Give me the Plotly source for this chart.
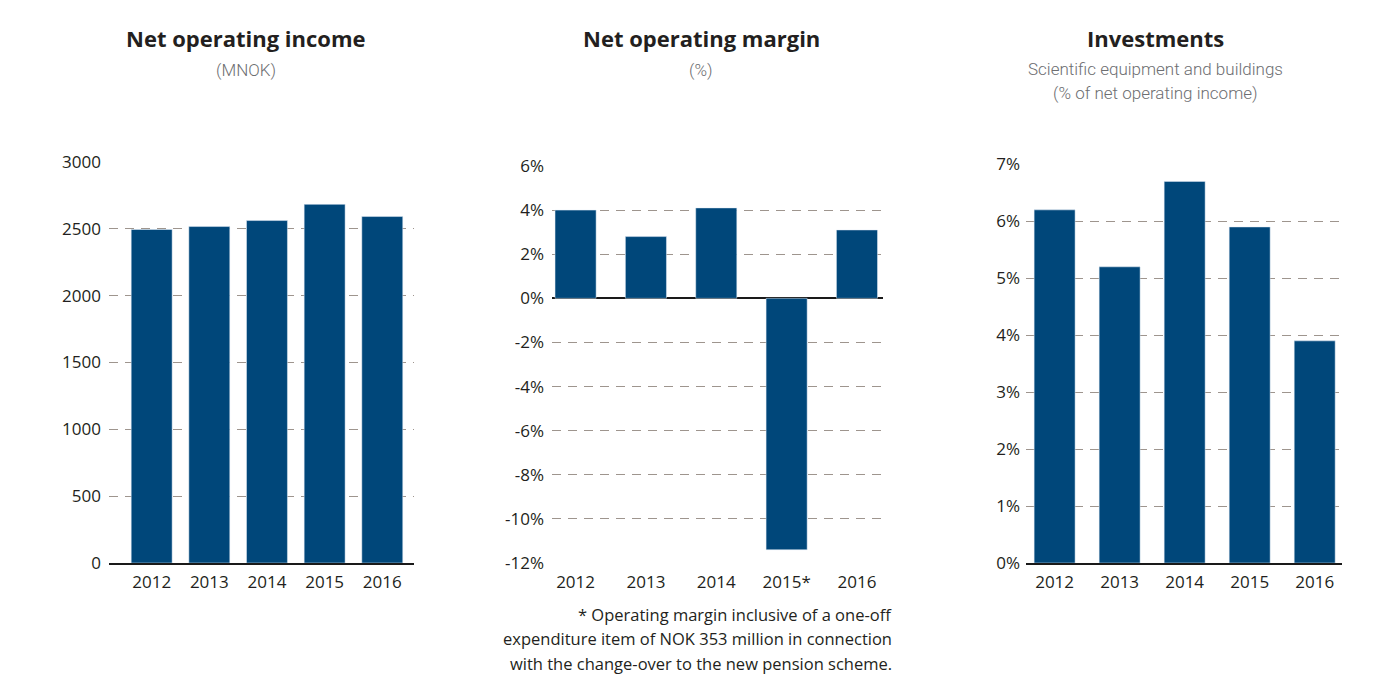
import plotly.graph_objects as go

years = ["2012", "2013", "2014", "2015", "2016"]
years_margin = ["2012", "2013", "2014", "2015*", "2016"]
income = [2495, 2517, 2562, 2683, 2592]          # MNOK
margin = [4.0, 2.8, 4.1, -11.4, 3.1]             # %
invest = [6.2, 5.2, 6.7, 5.9, 3.9]               # % of net operating income

income_ticks = [0, 500, 1000, 1500, 2000, 2500, 3000]
margin_ticks = [-12, -10, -8, -6, -4, -2, 0, 2, 4, 6]
margin_ticktext = [f"{v}%" for v in margin_ticks]
invest_ticks = [0, 1, 2, 3, 4, 5, 6, 7]
invest_ticktext = [f"{v}%" for v in invest_ticks]

BAR = "#00477a"
GRID = "#9e958e"
TXT = "#231f20"
SUB = "#6d6e71"
W, H = 1400, 696
OX, OY = 8, 8


def px(x):
    return (x - OX) / W


def py(y):
    return 1 - (y - OY) / H


fig = go.Figure()
fig.add_trace(go.Bar(x=years, y=income, marker_color=BAR, width=0.71,
                     xaxis="x", yaxis="y", hoverinfo="x+y"))
fig.add_trace(go.Bar(x=years_margin, y=margin, marker_color=BAR, width=0.584,
                     xaxis="x2", yaxis="y2", hoverinfo="x+y"))
fig.add_trace(go.Bar(x=years, y=invest, marker_color=BAR, width=0.63,
                     xaxis="x3", yaxis="y3", hoverinfo="x+y"))

tickfont = dict(family="Open Sans, Carlito, sans-serif", size=17, color=TXT)


def xax(domain, rng, showline, anchor, standoff=3):
    return dict(domain=domain, range=rng, type="category", showgrid=False, anchor=anchor,
                showline=showline, linecolor="#1a1a1a", linewidth=1.5,
                ticks="", tickfont=tickfont, ticklabelstandoff=standoff, automargin=False,
                layer="above traces", fixedrange=True)


def yax(domain, rng, anchor, tickvals, ticktext=None, zeroline=False, standoff=7):
    d = dict(domain=domain, range=rng, anchor=anchor, showgrid=True,
             gridcolor=GRID, gridwidth=1.3, griddash="9px,7px", automargin=False,
             tickvals=tickvals, tickfont=tickfont, ticklabelstandoff=standoff,
             showline=False, zeroline=zeroline, zerolinecolor="#1a1a1a",
             zerolinewidth=1.5, layer="above traces", fixedrange=True)
    if ticktext is not None:
        d["ticktext"] = ticktext
    return d


fig.update_layout(
    width=W, height=H, margin=dict(l=0, r=0, t=0, b=0, autoexpand=False),
    paper_bgcolor="white", plot_bgcolor="white", showlegend=False,
    xaxis=xax([px(109), px(414)], [-0.74, 4.55], True, "y"),
    yaxis=yax([py(563), py(162)], [0, 3000], "x", income_ticks),
    xaxis2=xax([px(552), px(883)], [-0.335, 4.37], False, "y2", standoff=7),
    yaxis2=yax([py(563), py(166)], [-12, 6], "x2", margin_ticks, margin_ticktext,
               zeroline=True),
    xaxis3=xax([px(1026), px(1342)], [-0.44, 4.42], True, "y3"),
    yaxis3=yax([py(563), py(164.3)], [0, 7], "x3", invest_ticks, invest_ticktext,
               standoff=5),
)

title_font = dict(family="Open Sans, sans-serif", size=22, color=TXT, weight="bold")
sub_font = dict(family="Roboto, sans-serif", size=17, color=SUB, weight=300)
foot_font = dict(family="Open Sans, Carlito, sans-serif", size=16.5, color=TXT)


def ann(text, xpx, ypx, font, xanchor="center"):
    fig.add_annotation(text=text, x=px(xpx), y=py(ypx), xref="paper", yref="paper",
                       xanchor=xanchor, yanchor="middle", showarrow=False, font=font)


ann("Net operating income", 246.5, 38, title_font)
ann("(MNOK)", 246, 70, sub_font)
ann("Net operating margin", 701, 38, title_font)
ann("(%)", 701, 70, sub_font)
ann("Investments", 1155, 38, title_font)
ann("Scientific equipment and buildings", 1155, 69, sub_font)
ann("(% of net operating income)", 1155, 93, sub_font)

ann("* Operating margin inclusive of a one-off", 894, 614, foot_font, "right")
ann("expenditure item of NOK 353 million in connection", 894, 638, foot_font, "right")
ann("with the change-over to the new pension scheme.", 894, 663, foot_font, "right")

fig.write_html("out.html")
